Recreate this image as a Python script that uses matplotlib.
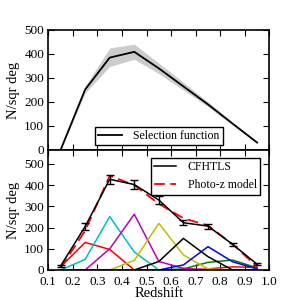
import numpy as np
import matplotlib
matplotlib.use("Agg")
import matplotlib.pyplot as plt
from matplotlib.lines import Line2D

plt.rcParams['font.family'] = ['Liberation Serif', 'DejaVu Serif']
plt.rcParams['mathtext.fontset'] = 'stix'

# Top panel: selection function
z_sel = [0.15, 0.25, 0.35, 0.45, 0.55, 0.65, 0.75, 0.85, 0.95]
sel = [0, 252, 385, 409, 340, 265, 190, 110, 31]
sel_lo = [0, 238, 348, 378, 318, 250, 180, 104, 28]
sel_hi = [0, 266, 425, 441, 362, 282, 200, 116, 34]

# Bottom panel
z = [0.15, 0.25, 0.35, 0.45, 0.55, 0.65, 0.75, 0.85, 0.95]
cfhtls = [19, 205, 428, 403, 330, 223, 207, 121, 27]
cfhtls_err = [5, 15, 22, 22, 18, 12, 12, 8, 5]
photoz = [10, 185, 445, 400, 312, 244, 210, 122, 15]

comp_red = [15, 130, 97, 0, 0, 0, 5, 15, 12]
comp_cyan = [0, 50, 252, 85, 0, 0, 0, 0, 0]
comp_magenta = [0, 0, 100, 263, 40, 8, 0, 0, 0]
comp_yellow = [0, 0, 0, 45, 220, 71, 5, 0, 0]
comp_black = [0, 0, 0, 0, 40, 149, 63, 0, 0]
comp_blue = [0, 0, 0, 0, 0, 24, 110, 39, 5]
comp_green = [0, 0, 0, 0, 0, 5, 36, 47, 10]

components = [
    (comp_green, 'g'),
    (comp_red, 'r'),
    (comp_cyan, 'c'),
    (comp_magenta, 'm'),
    (comp_yellow, 'y'),
    (comp_black, 'k'),
    (comp_blue, 'b'),
]

xticks = [0.1, 0.2, 0.3, 0.4, 0.5, 0.6, 0.7, 0.8, 0.9, 1.0]
yticks = [0, 100, 200, 300, 400, 500]

fig = plt.figure(figsize=(3, 3), dpi=100)
ax1 = fig.add_axes([0.161, 0.5, 0.737, 0.4])
ax2 = fig.add_axes([0.161, 0.1, 0.737, 0.4])

# Top
ax1.fill_between(z_sel, sel_lo, sel_hi, color='0.8', lw=0)
ax1.plot(z_sel, sel, color='k', lw=1.3, label='Selection function')
ax1.set_xlim(0.1, 1.0)
ax1.set_ylim(0, 500)
ax1.set_xticks(xticks)
ax1.set_xticklabels([])
ax1.set_yticks(yticks)
ax1.set_ylabel('N/sqr deg', fontsize=10.5, labelpad=3)
leg1 = ax1.legend(loc='lower center', bbox_to_anchor=(0.5, -0.01), fontsize=8.5,
                  fancybox=False, framealpha=1, edgecolor='k', borderpad=0.25,
                  handlelength=2.0, handletextpad=1.0)
leg1.get_frame().set_linewidth(1.0)

# Bottom
for vals, c in components:
    ax2.plot(z, vals, color=c, lw=1.1)
ax2.plot(z, photoz, color='r', ls='--', lw=1.3, dashes=(6, 3))
ax2.errorbar(z, cfhtls, yerr=cfhtls_err, color='k', lw=1.1, capsize=3,
             elinewidth=1.0, capthick=1.0)
ax2.set_xlim(0.1, 1.0)
ax2.set_ylim(0, 566)
ax2.set_xticks(xticks)
ax2.set_yticks(yticks)
ax2.set_ylabel('N/sqr deg', fontsize=10.5, labelpad=3)
ax2.set_xlabel('Redshift', fontsize=10.5, labelpad=-1)
handles = [Line2D([], [], color='k', lw=1.1),
           Line2D([], [], color='r', ls='--', lw=1.3, dashes=(6, 3))]
leg2 = ax2.legend(handles, ['CFHTLS', 'Photo-z model'], loc='upper right',
                  fontsize=8.5, fancybox=False, framealpha=1, edgecolor='k',
                  borderpad=0.3, handlelength=1.8, handletextpad=1.0,
                  bbox_to_anchor=(0.985, 0.985))
leg2.get_frame().set_linewidth(1.0)

for ax in (ax1, ax2):
    ax.tick_params(direction='in', top=True, right=True, labelsize=9.5, length=4, width=0.8, pad=3)
    for s in ax.spines.values():
        s.set_linewidth(1.2)
ax2.tick_params(axis='x', pad=4.5)

fig.savefig('out.png', dpi=100)
